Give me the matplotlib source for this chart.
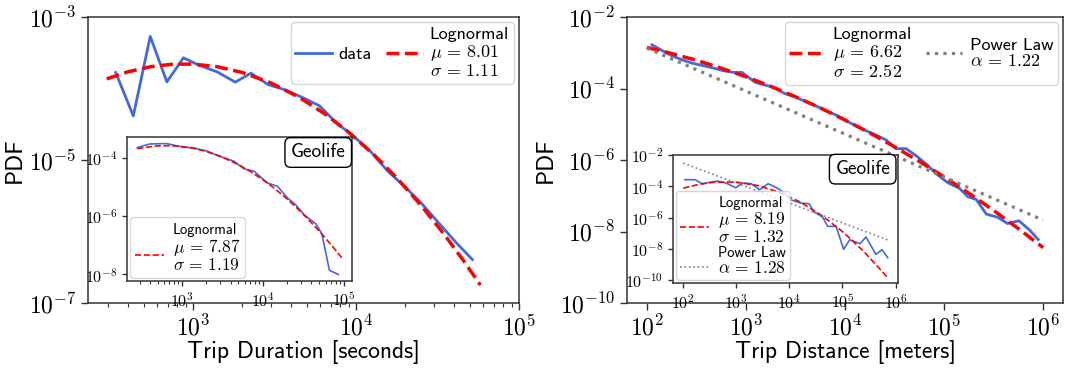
import numpy as np
import matplotlib
matplotlib.use("Agg")
import matplotlib.pyplot as plt
from matplotlib.lines import Line2D
from matplotlib.ticker import FixedLocator, NullLocator, FuncFormatter, LogLocator

# ---------------- data (log10 values) ----------------
# Left main panel: trip duration
dur_logx = [2.525, 2.633, 2.737, 2.839, 2.941, 3.039, 3.147, 3.259, 3.355, 3.459, 3.565,
            3.667, 3.776, 3.882, 3.984, 4.090, 4.194, 4.300, 4.402, 4.514, 4.616, 4.714]
dur_logpdf = [-3.776, -4.383, -3.271, -3.907, -3.570, -3.678, -3.766, -3.911, -3.785, -3.944, -4.019,
              -4.121, -4.243, -4.486, -4.664, -4.883, -5.154, -5.374, -5.607, -5.897, -6.159, -6.393]
dur_fit_logx = [2.470, 2.602, 2.740, 2.875, 3.000, 3.146, 3.301, 3.477, 3.653, 3.813, 3.954,
                4.114, 4.255, 4.398, 4.544, 4.672, 4.763]
dur_fit_logpdf = [-3.865, -3.765, -3.694, -3.660, -3.658, -3.694, -3.775, -3.921, -4.126, -4.362, -4.610,
                  -4.935, -5.263, -5.632, -6.049, -6.447, -6.750]
dur_label = 'Lognormal\n$\\mu\\,=\\,8.01$\n$\\sigma\\,=\\,1.11$'

# Left inset (Geolife): trip duration
gdur_logx = [2.447, 2.605, 2.813, 3.020, 3.125, 3.310, 3.456, 3.643, 3.767, 3.892, 4.058,
             4.183, 4.308, 4.411, 4.514, 4.660, 4.730, 4.826, 4.938]
gdur_logpdf = [-3.654, -3.530, -3.516, -3.644, -3.654, -3.770, -3.945, -4.118, -4.380, -4.460, -4.865,
               -4.980, -5.380, -5.620, -5.960, -6.270, -6.590, -7.860, -8.000]
gdur_fit_logx = [2.447, 2.699, 2.845, 3.000, 3.146, 3.301, 3.477, 3.699, 3.845, 4.000, 4.146,
                 4.301, 4.477, 4.699, 4.845, 4.978]
gdur_fit_logpdf = [-3.688, -3.594, -3.587, -3.617, -3.681, -3.787, -3.955, -4.238, -4.469, -4.750, -5.052,
                   -5.410, -5.864, -6.509, -6.976, -7.430]
gdur_label = '$\\mu\\,=\\,7.87$\n$\\sigma\\,=\\,1.19$'

# Right main panel: trip distance
dist_logx = [2.051, 2.152, 2.253, 2.354, 2.456, 2.574, 2.675, 2.776, 2.878, 2.962, 3.013, 3.097,
             3.198, 3.283, 3.384, 3.502, 3.603, 3.705, 3.806, 3.907, 4.008, 4.110, 4.194, 4.312,
             4.414, 4.515, 4.616, 4.717, 4.819, 4.937, 5.038, 5.156, 5.241, 5.325, 5.426, 5.540,
             5.640, 5.755, 5.865, 5.949]
dist_logpdf = [-2.776, -2.935, -3.084, -3.196, -3.290, -3.364, -3.430, -3.505, -3.551, -3.551, -3.664,
               -3.832, -3.907, -3.963, -4.131, -4.243, -4.364, -4.486, -4.617, -4.738, -4.897, -5.047,
               -5.159, -5.299, -5.439, -5.682, -5.682, -5.879, -6.112, -6.421, -6.636, -6.794, -7.028,
               -7.103, -7.514, -7.600, -7.776, -7.700, -7.963, -8.224]
dist_fit_logx = [2.00, 2.25, 2.50, 2.75, 3.00, 3.25, 3.50, 3.75, 4.00, 4.25, 4.50, 4.75,
                 5.00, 5.25, 5.50, 5.75, 6.00]
dist_fit_logpdf = [-2.85, -3.02, -3.21, -3.43, -3.67, -3.94, -4.23, -4.54, -4.88, -5.24, -5.63, -6.04,
                   -6.47, -6.93, -7.41, -7.92, -8.45]
dist_pl_logx = [2.0, 6.0]
dist_pl_logpdf = [-2.87, -7.68]
dist_ln_label = 'Lognormal\n$\\mu\\,=\\,6.62$\n$\\sigma\\,=\\,2.52$'
dist_pl_label = 'Power Law\n$\\alpha\\,=\\,1.22$'

# Right inset (Geolife): trip distance
gdist_logx = [2.032, 2.224, 2.352, 2.640, 2.800, 2.992, 3.120, 3.280, 3.440, 3.600, 3.793, 3.953,
              4.017, 4.209, 4.369, 4.465, 4.625, 4.721, 4.881, 5.022, 5.137, 5.329, 5.444, 5.630,
              5.745, 5.854]
gdist_logpdf = [-3.563, -3.563, -3.820, -3.649, -3.777, -4.077, -3.777, -3.820, -4.206, -3.820, -4.141,
                -4.570, -4.848, -5.062, -5.105, -5.640, -5.961, -6.561, -6.561, -8.039, -7.418, -7.675,
                -7.246, -8.360, -8.060, -8.574]
gdist_fit_logx = [2.0, 2.3, 2.6, 3.0, 3.4, 3.8, 4.2, 4.6, 5.0, 5.4, 5.85]
gdist_fit_logpdf = [-4.11, -3.86, -3.72, -3.72, -3.935, -4.358, -4.99, -5.838, -6.895, -8.164, -9.843]
gdist_pl_logx = [2.0, 5.85]
gdist_pl_logpdf = [-2.50, -7.43]
gdist_ln_label = '$\\mu\\,=\\,8.19$\n$\\sigma\\,=\\,1.32$'
gdist_pl_label = '$\\alpha\\,=\\,1.28$'

# ---------------- style ----------------
plt.rcParams['font.family'] = ['cmss10', 'DejaVu Sans']
plt.rcParams['mathtext.fontset'] = 'cm'
plt.rcParams['axes.unicode_minus'] = False
plt.rcParams['axes.formatter.use_mathtext'] = True

BLUE = '#4169e1'
SPINE = '#333333'


def p10(a):
    return 10.0 ** np.asarray(a)


def sci(v, pos):
    e = int(round(np.log10(v)))
    return r'$\mathrm{10^{%d}}$' % e


def style(ax, labelsize, major_len, minor_len):
    for s in ax.spines.values():
        s.set_color(SPINE)
        s.set_linewidth(1.1)
    ax.tick_params(which='major', labelsize=labelsize, length=major_len, width=1.0, color=SPINE)
    ax.tick_params(which='minor', length=minor_len, width=0.8, color=SPINE)
    ax.xaxis.set_major_formatter(FuncFormatter(sci))
    ax.yaxis.set_major_formatter(FuncFormatter(sci))


def tighten(leg, ls):
    for t in leg.get_texts():
        t.set_linespacing(ls)


fig = plt.figure(figsize=(10.77, 3.70), dpi=100)
axL = fig.add_axes([0.0817, 0.181, 0.4002, 0.773])
axR = fig.add_axes([0.5822, 0.181, 0.4048, 0.773])
insL = fig.add_axes([0.1179, 0.2405, 0.2089, 0.3892])
insR = fig.add_axes([0.6249, 0.2351, 0.2089, 0.3459])

main_leg_kw = dict(ncol=2, loc='upper right', fontsize=13, borderaxespad=0.3, columnspacing=0.8,
                   handletextpad=0.4, borderpad=0.25, handlelength=2.0)

# ---------- left main ----------
axL.plot(p10(dur_logx), p10(dur_logpdf), color=BLUE, lw=2.0, label='data')
axL.plot(p10(dur_fit_logx), p10(dur_fit_logpdf), color='red', ls='--', lw=2.5, label=dur_label)
axL.set_xscale('log')
axL.set_yscale('log')
axL.set_xlim(10 ** 2.355, 1e5)
axL.set_ylim(1e-7, 1e-3)
axL.xaxis.set_major_locator(FixedLocator([1e3, 1e4, 1e5]))
axL.xaxis.set_minor_locator(LogLocator(base=10, subs=np.arange(2, 10)))
axL.yaxis.set_major_locator(FixedLocator([1e-7, 1e-5, 1e-3]))
axL.yaxis.set_minor_locator(NullLocator())
style(axL, 17, 5, 3)
axL.set_xlabel('Trip Duration [seconds]', fontsize=17, labelpad=0)
axL.set_ylabel('PDF', fontsize=17, labelpad=2)
tighten(axL.legend(**main_leg_kw), 1.05)

# ---------- left inset ----------
insL.plot(p10(gdur_logx), p10(gdur_logpdf), color=BLUE, lw=1.2)
insL.plot(p10(gdur_fit_logx), p10(gdur_fit_logpdf), color='red', ls='--', lw=1.2)
insL.set_xscale('log')
insL.set_yscale('log')
insL.xaxis.set_major_locator(FixedLocator([1e3, 1e4, 1e5]))
insL.xaxis.set_minor_locator(LogLocator(base=10, subs=np.arange(2, 10)))
insL.yaxis.set_major_locator(FixedLocator([1e-8, 1e-6, 1e-4]))
insL.yaxis.set_minor_locator(NullLocator())
style(insL, 11.5, 3.5, 2)
insL.text(0.972, 0.955, 'Geolife', transform=insL.transAxes, ha='right', va='top', fontsize=14,
          bbox=dict(boxstyle='round,pad=0.3', fc='white', ec='black', lw=1.0))
hnone = Line2D([], [], color='none')
legL = insL.legend([hnone, Line2D([], [], color='red', ls='--', lw=1.2)], ['Lognormal', gdur_label],
                   loc='lower left', fontsize=12.5, labelspacing=0.0, borderaxespad=0.2,
                   borderpad=0.25, handletextpad=0.5, handlelength=1.7)
tighten(legL, 0.95)
legL.get_texts()[0].set_fontsize(10.5)

# ---------- right main ----------
axR.plot(p10(dist_logx), p10(dist_logpdf), color=BLUE, lw=2.0)
axR.plot(p10(dist_fit_logx), p10(dist_fit_logpdf), color='red', ls='--', lw=2.5, label=dist_ln_label)
axR.plot(p10(dist_pl_logx), p10(dist_pl_logpdf), color='gray', ls=':', lw=2.3, label=dist_pl_label)
axR.set_xscale('log')
axR.set_yscale('log')
axR.set_ylim(1e-10, 1e-2)
axR.xaxis.set_major_locator(FixedLocator([1e2, 1e3, 1e4, 1e5, 1e6]))
axR.xaxis.set_minor_locator(NullLocator())
axR.yaxis.set_major_locator(FixedLocator([1e-10, 1e-8, 1e-6, 1e-4, 1e-2]))
axR.yaxis.set_minor_locator(NullLocator())
style(axR, 17, 5, 3)
axR.set_xlabel('Trip Distance [meters]', fontsize=17, labelpad=0)
axR.set_ylabel('PDF', fontsize=17, labelpad=2)
tighten(axR.legend(**main_leg_kw), 1.05)

# ---------- right inset ----------
insR.plot(p10(gdist_logx), p10(gdist_logpdf), color=BLUE, lw=1.2)
insR.plot(p10(gdist_fit_logx), p10(gdist_fit_logpdf), color='red', ls='--', lw=1.2)
insR.plot(p10(gdist_pl_logx), p10(gdist_pl_logpdf), color='gray', ls=':', lw=1.2)
insR.set_xscale('log')
insR.set_yscale('log')
insR.set_ylim(10 ** -10.2, 10 ** -1.98)
insR.xaxis.set_major_locator(FixedLocator([1e2, 1e3, 1e4, 1e5, 1e6]))
insR.xaxis.set_minor_locator(NullLocator())
insR.yaxis.set_major_locator(FixedLocator([1e-10, 1e-8, 1e-6, 1e-4, 1e-2]))
insR.yaxis.set_minor_locator(NullLocator())
style(insR, 11.5, 3.5, 2)
insR.text(0.965, 0.96, 'Geolife', transform=insR.transAxes, ha='right', va='top', fontsize=14,
          bbox=dict(boxstyle='round,pad=0.3', fc='white', ec='black', lw=1.0))
legR = insR.legend([hnone, Line2D([], [], color='red', ls='--', lw=1.2),
                    hnone, Line2D([], [], color='gray', ls=':', lw=1.2)],
                   ['Lognormal', gdist_ln_label, 'Power Law', gdist_pl_label],
                   loc='lower left', fontsize=12.5, labelspacing=0.0, borderaxespad=0.2,
                   borderpad=0.2, handletextpad=0.5, handlelength=1.7)
tighten(legR, 0.95)
legR.get_texts()[0].set_fontsize(10.5)
legR.get_texts()[2].set_fontsize(10.5)

fig.savefig('out.png', dpi=100)
